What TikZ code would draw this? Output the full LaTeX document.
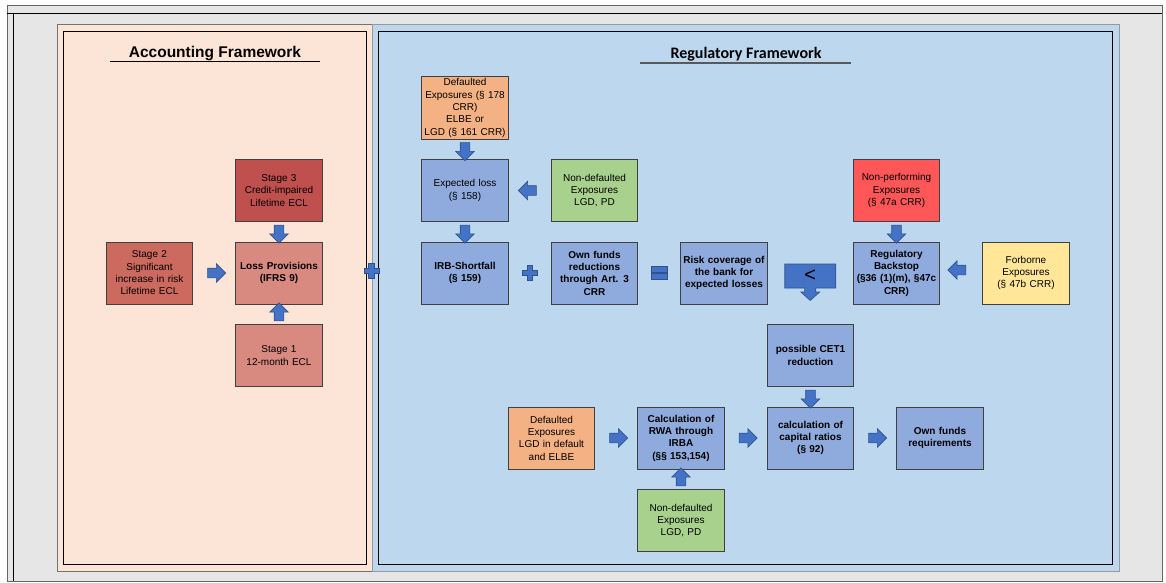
\documentclass[tikz,border=0pt]{standalone}
\usepackage{fontspec}
\setmainfont{Liberation Sans}
\newfontfamily\calibrifont{Carlito}
\usetikzlibrary{positioning,calc,shapes.arrows}

\definecolor{framegray}{HTML}{E6E6E6}
\definecolor{accpeach}{HTML}{FCE4D6}
\definecolor{regblue}{HTML}{BDD7EE}
\definecolor{boxblue}{HTML}{8FAADC}
\definecolor{exporange}{HTML}{F4B183}
\definecolor{expgreen}{HTML}{A9D18E}
\definecolor{npered}{HTML}{FF5757}
\definecolor{forbyellow}{HTML}{FFE699}
\definecolor{stagedark}{HTML}{C0504D}
\definecolor{stagemid}{HTML}{CD6A5F}
\definecolor{stagelight}{HTML}{D98A80}
\definecolor{arrowblue}{HTML}{4472C4}
\definecolor{arrowedge}{HTML}{2F528F}

\tikzset{
  box/.style={draw=black!75, line width=1pt, outer sep=0pt, text width=84pt,
    inner xsep=1.25pt, inner ysep=1pt, minimum width=86.5pt, minimum height=62pt,
    align=center, font=\fontsize{10}{12.3}\selectfont},
  boldbox/.style={box, font=\bfseries\fontsize{10}{12.3}\selectfont},
  blockarrow/.style={single arrow, draw=arrowedge, fill=arrowblue, line width=0.6pt,
    minimum height=18pt, minimum width=18pt, inner xsep=0pt, inner ysep=4.5pt,
    single arrow head extend=4.5pt},
  sign/.style={draw=arrowedge, fill=arrowblue, line width=0.6pt},
  plussign/.pic={\filldraw[sign] (-2.75,-7.5) -- ++(5.5,0) -- ++(0,4.75) -- ++(4.75,0)
    -- ++(0,5.5) -- ++(-4.75,0) -- ++(0,4.75) -- ++(-5.5,0) -- ++(0,-4.75)
    -- ++(-4.75,0) -- ++(0,-5.5) -- ++(4.75,0) -- cycle;},
  equalsign/.pic={\filldraw[sign] (-8,-6.25) rectangle (8,-0.75);
    \filldraw[sign] (-8,0.75) rectangle (8,6.25);}
}

\begin{document}
\begin{tikzpicture}[x=1pt,y=-1pt,node distance=20.5pt and 43pt]
\useasboundingbox (0,0) rectangle (1166,583);

% frame and panels
\filldraw[fill=framegray,draw=black!60,line width=1pt] (7,6) rectangle (1162,581);
\draw[line width=0.7pt] (7,13) -- (1162,13) (13,13) -- (13,581);
\filldraw[fill=accpeach,draw=black!55,line width=0.8pt] (57,24) rectangle (372,571);
\filldraw[fill=regblue,draw=black!40,line width=0.8pt] (372,24) rectangle (1119,571);
\draw[line width=0.7pt] (63,31) rectangle (366,564);
\draw[line width=0.7pt] (378,31) rectangle (1112,564);

\node[font=\bfseries\fontsize{15.5}{18}\selectfont] (acctitle) at (215,54) {Accounting Framework};
\draw[line width=1pt] (110,62) -- (320,62);
\node[font=\calibrifont\bfseries\fontsize{16}{18}\selectfont] (regtitle) at (746,54) {Regulatory Framework};
\draw[line width=1.4pt,black!65] (640,63) -- (851,63);

% accounting side
\node[boldbox,fill=stagelight] (loss) at (279,273) {Loss Provisions\\(IFRS 9)};
\node[box,fill=stagedark] (stagethree) [above=of loss] {Stage 3\\Credit-impaired\\Lifetime ECL};
\node[box,fill=stagemid] (stagetwo) [left=of loss] {Stage 2\\Significant\\increase in risk\\Lifetime ECL};
\node[box,fill=stagelight] (stageone) [below=of loss] {Stage 1\\12-month ECL};

% regulatory side
\node[boldbox,fill=boxblue] (irb) at (465,273) {IRB-Shortfall\\(§ 159)};
\node[box,fill=boxblue] (expected) [above=of irb] {Expected loss\\(§ 158)};
\node[box,fill=exporange] (defaulted) [above=of expected] {Defaulted\\Exposures (§ 178\\CRR)\\ELBE or\\LGD (§ 161 CRR)};
\node[box,fill=expgreen] (nondefone) [right=of expected] {Non-defaulted\\Exposures\\LGD, PD};
\node[boldbox,fill=boxblue] (ownfunds) [right=of irb] {Own funds\\reductions\\through Art. 3\\CRR};
\node[boldbox,fill=boxblue] (coverage) [right=of ownfunds] {Risk coverage of\\the bank for\\expected losses};
\node[boldbox,fill=boxblue] (backstop) [right=86pt of coverage] {Regulatory\\Backstop\\(§36 (1)(m), §47c\\CRR)};
\node[box,fill=npered] (nonperf) [above=of backstop] {Non-performing\\Exposures\\(§ 47a CRR)};
\node[box,fill=forbyellow] (forborne) [right=of backstop] {Forborne\\Exposures\\(§ 47b CRR)};
\node[boldbox,fill=boxblue] (cetone) [below right=20.5pt and 0pt of coverage] {possible CET1\\reduction};
\node[boldbox,fill=boxblue] (capital) [below=of cetone] {calculation of\\capital ratios\\(§ 92)};
\node[boldbox,fill=boxblue] (rwa) [left=of capital] {Calculation of\\RWA through\\IRBA\\(§§ 153,154)};
\node[box,fill=exporange] (defaultedtwo) [left=of rwa] {Defaulted\\Exposures\\LGD in default\\and ELBE};
\node[boldbox,fill=boxblue] (ownreq) [right=of capital] {Own funds\\requirements};
\node[box,fill=expgreen] (nondeftwo) [below=of rwa] {Non-defaulted\\Exposures\\LGD, PD};

% block arrows
\node[blockarrow,rotate=-90] (astagethree) at ($(stagethree.south)!0.5!(loss.north)$) {};
\node[blockarrow] (astagetwo) at ($(stagetwo.east)!0.5!(loss.west)$) {};
\node[blockarrow,rotate=90] (astageone) at ($(stageone.north)!0.5!(loss.south)$) {};
\node[blockarrow,rotate=-90] (adefaulted) at ($(defaulted.south)!0.5!(expected.north)$) {};
\node[blockarrow,rotate=180] (anondefone) at ($(nondefone.west)!0.5!(expected.east)$) {};
\node[blockarrow,rotate=-90] (aexpected) at ($(expected.south)!0.5!(irb.north)$) {};
\node[blockarrow,rotate=-90] (anonperf) at ($(nonperf.south)!0.5!(backstop.north)$) {};
\node[blockarrow,rotate=180] (aforborne) at ($(forborne.west)!0.5!(backstop.east)+(-2,-3)$) {};
\node[blockarrow,rotate=-90] (acetone) at ($(cetone.south)!0.5!(capital.north)$) {};
\node[blockarrow] (adefaultedtwo) at ($(defaultedtwo.east)!0.5!(rwa.west)$) {};
\node[blockarrow] (arwa) at ($(rwa.east)!0.5!(capital.west)$) {};
\node[blockarrow] (acapital) at ($(capital.east)!0.5!(ownreq.west)$) {};
\node[blockarrow,rotate=90] (anondeftwo) at ($(nondeftwo.north)!0.5!(rwa.south)$) {};

% signs
\pic at (371.5,271) {plussign};
\pic at ($(irb.east)!0.5!(ownfunds.west)$) {plussign};
\pic at ($(ownfunds.east)!0.5!(coverage.west)$) {equalsign};
\node[minimum width=51pt,minimum height=24pt,inner sep=0pt,outer sep=0pt] (lessbox)
  at ($(coverage.east)!0.5!(backstop.west)+(0,3)$) {};
\filldraw[sign] (lessbox.north west) -- (lessbox.north east) -- (lessbox.south east)
  -- ($(lessbox.south)+(5.5,0)$) -- ++(0,4) -- ++(4,0) -- ++(-9.5,8.5) -- ++(-9.5,-8.5)
  -- ++(4,0) -- ++(0,-4) -- (lessbox.south west) -- cycle;
\node[text=black,font=\fontsize{20}{20}\selectfont] (lesssign) at (lessbox) {<};
\end{tikzpicture}
\end{document}
